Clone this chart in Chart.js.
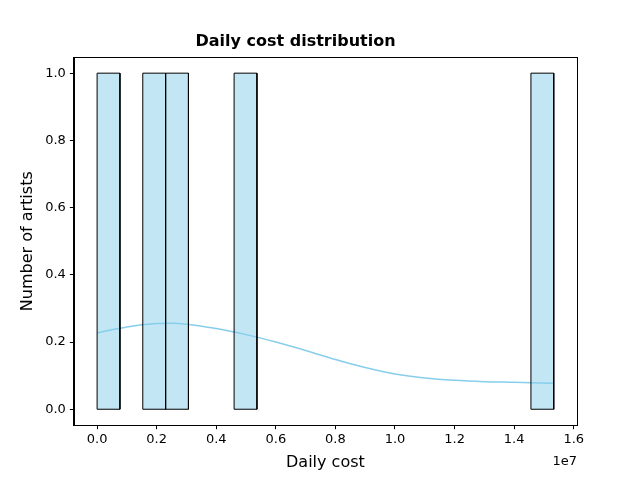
<!DOCTYPE html>
<html><head><script src="https://cdn.jsdelivr.net/npm/chart.js@4"></script>
<style>body{margin:0;background:#fff}#w{width:640px;height:480px}</style></head>
<body><div id="w"><canvas id="c"></canvas></div>
<script>
const binEdges = [0,766500,1533000,2299500,3066000,3832500,4599000,5365500,6132000,6898500,7665000,8431500,9198000,9964500,10731000,11497500,12264000,13030500,13797000,14563500,15330000];
const counts = [1,0,1,1,0,0,1,0,0,0,0,0,0,0,0,0,0,0,0,1];
const kdeX = [0,1000000,2000000,2500000,3000000,4000000,5000000,6000000,7000000,8000000,9000000,10000000,11000000,12000000,13000000,14000000,15330000];
const kdeY = [0.227,0.245,0.255,0.256,0.253,0.24,0.222,0.2,0.175,0.148,0.124,0.105,0.093,0.086,0.082,0.080,0.077];
const datasets = [];
counts.forEach((n,i)=>{ if(!n) return;
  const a=binEdges[i], b=binEdges[i+1];
  datasets.push({type:'line',data:[{x:a,y:0},{x:a,y:n},{x:b,y:n},{x:b,y:0},{x:a,y:0}],
    borderColor:'#000',borderWidth:1,fill:false,pointRadius:0,tension:0});
});
datasets.push({type:'line',data:kdeX.map((x,i)=>({x,y:kdeY[i]})),borderColor:'#87ceeb',borderWidth:1.5,pointRadius:0,fill:false,cubicInterpolationMode:'monotone'});
const frame={id:'frame',
 beforeDatasetsDraw(ch){const c=ch.ctx,x=ch.scales.x,y=ch.scales.y;c.save();c.fillStyle='rgba(135,206,235,0.5)';
  counts.forEach((n,i)=>{if(!n)return;const l=x.getPixelForValue(binEdges[i]),r=x.getPixelForValue(binEdges[i+1]),t=y.getPixelForValue(n),b=y.getPixelForValue(0);c.fillRect(l,t,r-l,b-t);});c.restore();},
 afterDraw(ch){const a=ch.chartArea,c=ch.ctx;c.save();c.strokeStyle='#000';c.lineWidth=1;c.strokeRect(Math.round(a.left)+0.5,Math.round(a.top)+0.5,Math.round(a.right-a.left),Math.round(a.bottom-a.top));
 c.fillStyle='#000';c.font='13px "DejaVu Sans"';c.textAlign='right';c.fillText('1e7',a.right,a.bottom+40);c.restore();}};
Chart.defaults.font.family='"DejaVu Sans"';Chart.defaults.color='#000';
const gridOpt={drawOnChartArea:false,drawTicks:true,tickLength:4,color:'#000'};
new Chart(document.getElementById('c'),{type:'line',data:{datasets},plugins:[frame],
options:{responsive:true,maintainAspectRatio:false,animation:false,
layout:{padding:{left:14,right:63,top:24,bottom:4}},
plugins:{legend:{display:false},tooltip:{enabled:false},title:{display:true,text:'Daily cost distribution',font:{size:16,weight:'bold'},padding:{top:8,bottom:6}}},
scales:{x:{type:'linear',min:-780000,max:16110000,grid:gridOpt,border:{color:'#000'},
 afterBuildTicks(s){s.ticks=[0,2,4,6,8,10,12,14,16].map(v=>({value:v*1e6}))},
 ticks:{callback:v=>(v/1e7).toFixed(1),font:{size:13},maxRotation:0,autoSkip:false,padding:3},
 title:{display:true,text:'Daily cost',font:{size:16},padding:{top:2}}},
y:{min:-0.0475,max:1.0475,grid:gridOpt,border:{color:'#000'},
 afterBuildTicks(s){s.ticks=[0,0.2,0.4,0.6,0.8,1].map(v=>({value:v}))},
 ticks:{callback:v=>v.toFixed(1),font:{size:13},padding:4},
 title:{display:true,text:'Number of artists',font:{size:16}}}}}});
</script></body></html>
